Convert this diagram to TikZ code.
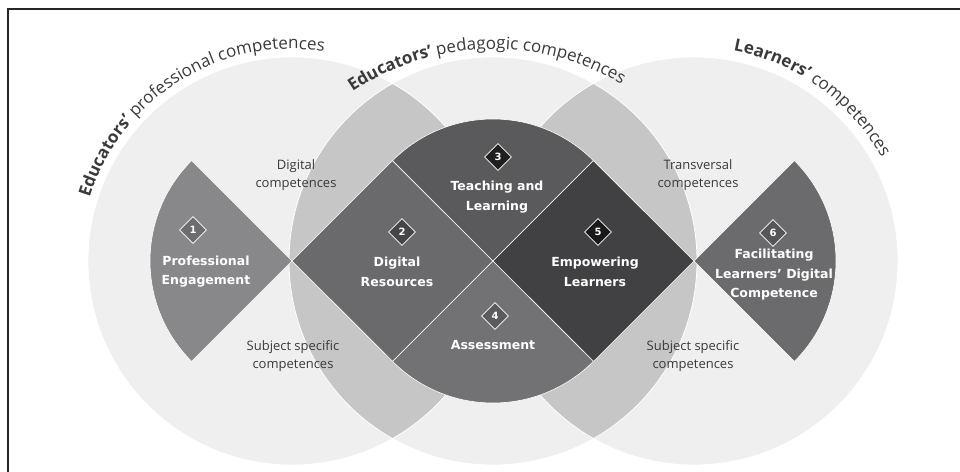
\documentclass[tikz,border=0pt]{standalone}
\usepackage{fontspec}
\setmainfont{Open Sans}
\newfontfamily\squarefont{DejaVu Sans}
\usetikzlibrary{shapes.geometric,decorations.text,positioning}
\definecolor{circlegray}{HTML}{EFEFEF}
\definecolor{lensgray}{HTML}{C6C6C6}
\definecolor{engage}{HTML}{88888B}
\definecolor{resource}{HTML}{6A6A6D}
\definecolor{teach}{HTML}{5A5A5D}
\definecolor{assess}{HTML}{727275}
\definecolor{empower}{HTML}{414143}
\definecolor{facil}{HTML}{6B6B6E}
\definecolor{inkgray}{HTML}{3A3A3A}
\tikzstyle{area}=[draw=white, line width=.6pt]
\tikzstyle{badge}=[diamond, draw=white, line width=.8pt, minimum size=27pt,
  inner sep=0pt, text=white, font=\squarefont\bfseries\fontsize{10}{10}\selectfont]
\tikzstyle{title}=[text=white, align=center,
  font=\squarefont\bfseries\fontsize{12.5}{19.5}\selectfont]
\tikzstyle{soft}=[text=inkgray, align=center, font=\fontsize{13}{18.5}\selectfont]
\tikzstyle{arctext}=[decorate, decoration={text along path, text color=inkgray,
  text align=left}]

\begin{document}
\begin{tikzpicture}[x=1pt, y=1pt]
  \useasboundingbox (0,0) rectangle (960,471);
  \clip (0,0) rectangle (960,471);
  \coordinate (L) at (292,210);
  \coordinate (M) at (493,210);
  \coordinate (R) at (694,210);

  % frame, cut by the page on the right and below
  \draw[line width=1.5pt, black!85] (8,-20) rectangle (990,462);

  % three big circles and the two overlaps
  \fill[circlegray] (L) circle[radius=204pt] (M) circle[radius=204pt]
    (R) circle[radius=204pt];
  \begin{scope}
    \clip (M) circle[radius=204pt];
    \fill[lensgray] (L) circle[radius=204pt] (R) circle[radius=204pt];
  \end{scope}
  \draw[white, line width=.8pt] (L) circle[radius=204pt] (M) circle[radius=204pt]
    (R) circle[radius=204pt];

  % the six areas
  \draw[area, fill=engage] (L) -- ++(135:142pt)
    arc[start angle=135, end angle=225, radius=142pt] -- cycle;
  \draw[area, fill=resource] (L) -- ++(45:142pt) -- (M) -- ++(225:142pt) -- cycle;
  \draw[area, fill=teach] (M) -- ++(45:142pt)
    arc[start angle=45, end angle=135, radius=142pt] -- cycle;
  \draw[area, fill=assess] (M) -- ++(225:142pt)
    arc[start angle=225, end angle=315, radius=142pt] -- cycle;
  \draw[area, fill=empower] (M) -- ++(45:142pt) -- (R) -- ++(225:142pt) -- cycle;
  \draw[area, fill=facil] (R) -- ++(-45:142pt)
    arc[start angle=-45, end angle=45, radius=142pt] -- cycle;

  % numbers
  \node[badge, fill=engage!80!black] (b1) at (193,241) {1};
  \node[badge, fill=resource!65!black] (b2) at (402,239) {2};
  \node[badge, fill=black!88] (b3) at (498,314) {3};
  \node[badge, fill=assess!80!black] (b4) at (495,155) {4};
  \node[badge, fill=black!90] (b5) at (598,239) {5};
  \node[badge, fill=facil!80!black] (b6) at (773,238) {6};

  \node[title] (t1) at (206,199.5) {Professional\\Engagement};
  \node[title] (t2) at (397,199) {Digital\\Resources};
  \node[title] (t3) at (497,274) {Teaching and\\Learning};
  \node[title] (t4) at (493,126) {Assessment};
  \node[title] (t5) at (595,199) {Empowering\\Learners};
  \node[title] (t6) at (774,196) {Facilitating\\Learners’ Digital\\Competence};

  \node[soft] (dig) at (296,296) {Digital\\competences};
  \node[soft] (trans) at (698,296) {Transversal\\competences};
  \node[soft] (subl) at (293,115) {Subject specific\\competences};
  \node[soft] (subr) at (693,115) {Subject specific\\competences};

  % headings round the circles
  \path[arctext, decoration={text={|\fontsize{17}{17}\selectfont\bfseries|Educators’
    |+\mdseries|professional competences}}]
    (L) ++(162.6:212pt) arc[start angle=162.6, end angle=30, radius=212pt];
  \path[arctext, decoration={text={|\fontsize{17}{17}\selectfont\bfseries|Educators’
    |+\mdseries|pedagogic competences}}]
    (M) ++(0,-39) ++(124:251pt) arc[start angle=124, end angle=30, radius=251pt];
  \path[arctext, decoration={text={|\fontsize{17}{17}\selectfont\bfseries|Learners’
    |+\mdseries|competences}}]
    (R) ++(79.4:214pt) arc[start angle=79.4, end angle=-10, radius=214pt];
\end{tikzpicture}
\end{document}
